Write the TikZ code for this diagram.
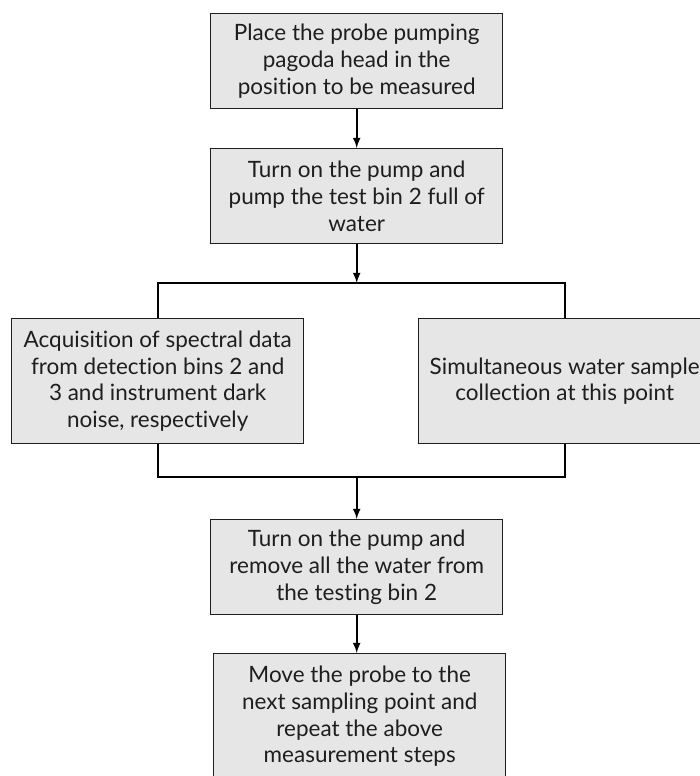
\documentclass[tikz,border=0pt]{standalone}
\usepackage{fontspec}
\setmainfont[Ligatures=CommonOff]{Lato}
\usepackage{tikz}
\usetikzlibrary{calc}
\usetikzlibrary{positioning}
\definecolor{boxgray}{HTML}{E6E6E6}
\definecolor{inkgray}{HTML}{1E1E1E}

\begin{document}
\begin{tikzpicture}[
	stepbox/.style={rectangle, draw=inkgray, line width=0.8pt, fill=boxgray, text=inkgray, align=center, minimum width=5.84cm, anchor=north west, font=\fontsize{12.8}{15.3}\selectfont},
	flowline/.style={line width=1pt, draw=black}
]

\useasboundingbox (0,0) rectangle (14,15.52);

%%\draw[step=0.5cm, gray, very thin] (0,0) grid (14,15.52);

\node at (4.2,15.26) [stepbox, minimum height=1.9cm] (placeprobe) {Place the probe pumping\\pagoda head in the\\position to be measured};
\node at (4.2,12.56) [stepbox, minimum height=1.9cm] (pumpin) {Turn on the pump and\\pump the test bin 2 full of\\water};

\node at (0.22,9.16) [stepbox, minimum height=2.5cm] (acquire) {Acquisition of spectral data\\from detection bins 2 and\\3 and instrument dark\\noise, respectively};
\node at (8.36,9.16) [stepbox, minimum height=2.5cm] (sample) {Simultaneous water sample\\collection at this point};

\node at (4.2,5.14) [stepbox, minimum height=1.9cm] (pumpout) {Turn on the pump and\\remove all the water from\\the testing bin 2};
\node at (4.26,2.46) [stepbox, minimum height=2.5cm] (moveprobe) {Move the probe to the\\next sampling point and\\repeat the above\\measurement steps};

\coordinate (split) at (pumpin.south |- 0,9.86);
\coordinate (join) at (pumpout.north |- 0,5.98);

\begin{scope}[>=latex]
	\draw [flowline, ->] (placeprobe.south) -- (pumpin.north);
	\draw [flowline, ->] (pumpin.south) -- (split);
	\draw [flowline] (acquire.north) |- (split) -| (sample.north);
	\draw [flowline] (acquire.south) |- (join) -| (sample.south);
	\draw [flowline, ->] (join) -- (pumpout.north);
	\draw [flowline, ->] (pumpout.south) -- (pumpout.south |- moveprobe.north);
\end{scope}

\end{tikzpicture}
\end{document}
